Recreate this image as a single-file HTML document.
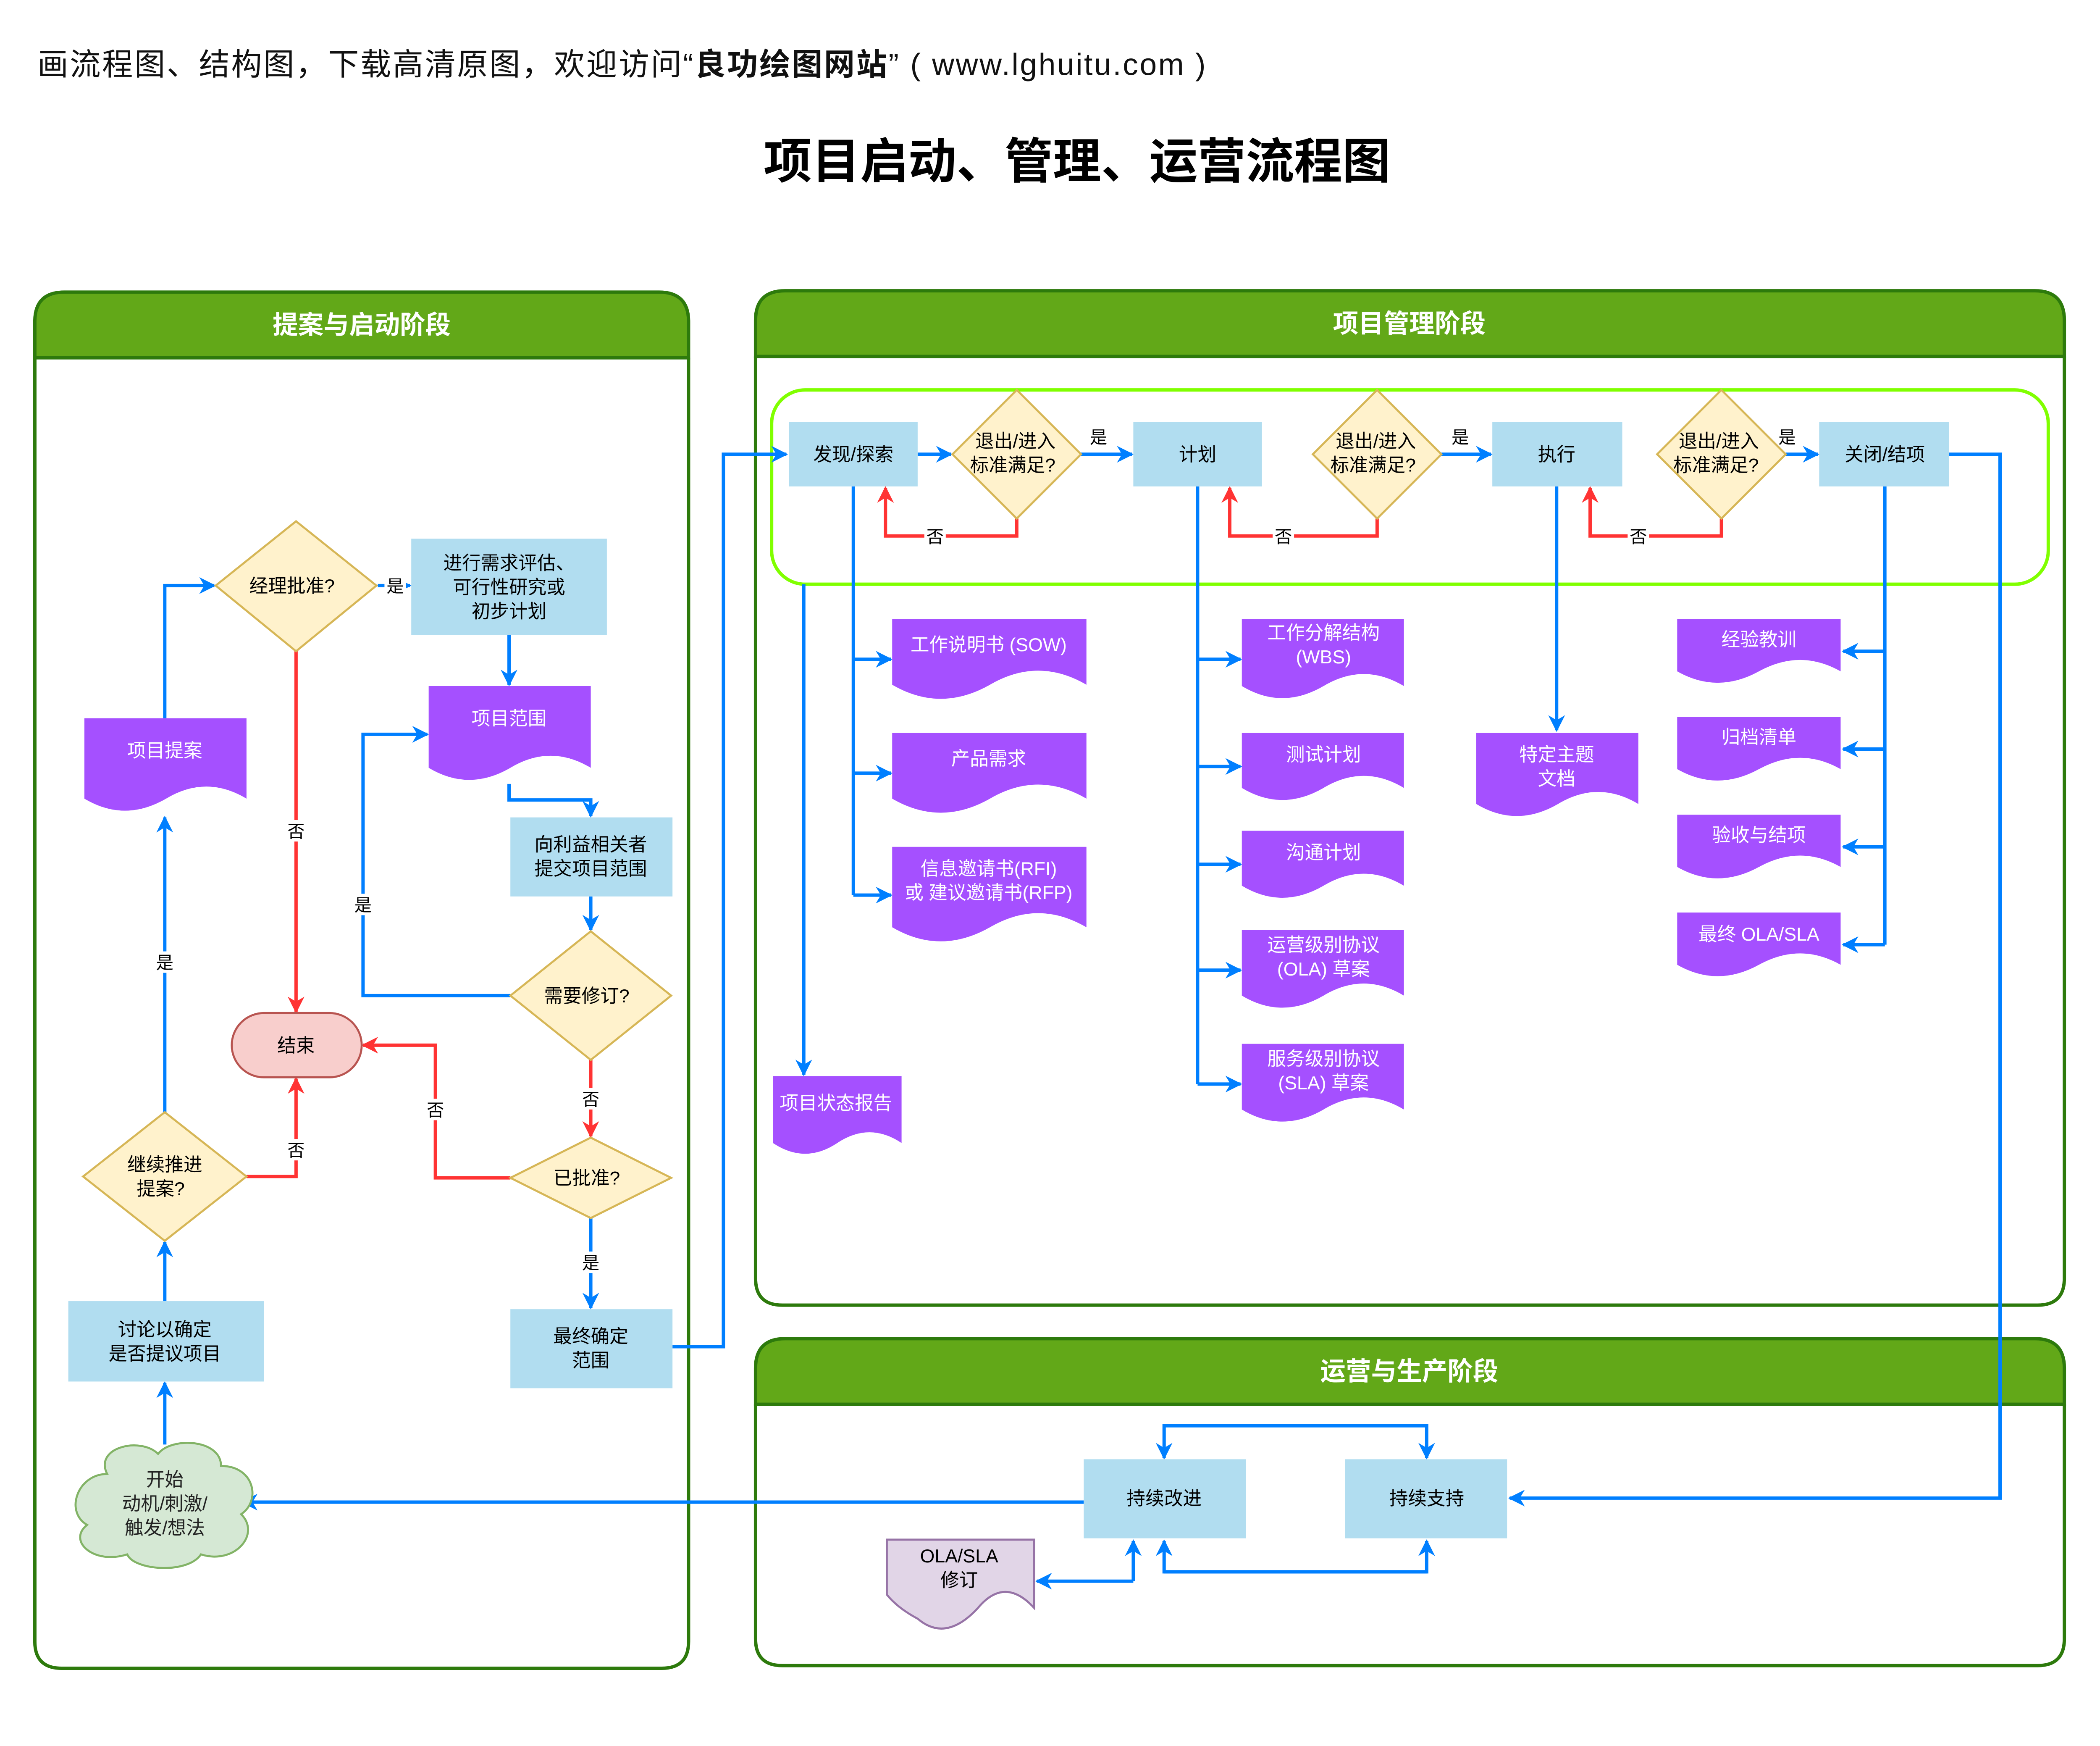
<!DOCTYPE html>
<html><head><meta charset="utf-8"><style>
html,body{margin:0;padding:0;background:#fff;}
svg{display:block;}
text{font-family:"Liberation Sans","Noto Sans CJK SC",sans-serif;}
</style></head><body>
<svg width="5132" height="4156" viewBox="0 0 1609 1303" preserveAspectRatio="none" xmlns="http://www.w3.org/2000/svg">
<defs>
<marker id="b" viewBox="0 0 10 10" refX="9" refY="5" markerWidth="5" markerHeight="5" orient="auto" markerUnits="strokeWidth"><path d="M0,0 L10,5 L0,10 L3,5 z" fill="#007fff"/></marker>
<marker id="r" viewBox="0 0 10 10" refX="9" refY="5" markerWidth="5" markerHeight="5" orient="auto" markerUnits="strokeWidth"><path d="M0,0 L10,5 L0,10 L3,5 z" fill="#ff3333"/></marker>
</defs>
<rect width="1609" height="1303" fill="#fff"/>
<text x="28" y="56" font-size="23" fill="#111" textLength="872" lengthAdjust="spacing">画流程图、结构图，下载高清原图，欢迎访问“<tspan font-weight="bold">良功绘图网站</tspan>” ( www.lghuitu.com )</text>
<text x="804" y="133" font-size="36" font-weight="bold" text-anchor="middle" fill="#000">项目启动、管理、运营流程图</text>

<g stroke="#2d7a0c" stroke-width="2.5">
<path d="M26,267 V240 Q26,218 48,218 H492 Q514,218 514,240 V267 Z" fill="#62a818"/>
<path d="M26,267 V1225 Q26,1245 46,1245 H494 Q514,1245 514,1225 V267" fill="none"/>
<path d="M564,266 V239 Q564,217 586,217 H1519 Q1541,217 1541,239 V266 Z" fill="#62a818"/>
<path d="M564,266 V954 Q564,974 584,974 H1521 Q1541,974 1541,954 V266" fill="none"/>
<path d="M564,1048 V1021 Q564,999 586,999 H1519 Q1541,999 1541,1021 V1048 Z" fill="#62a818"/>
<path d="M564,1048 V1223 Q564,1243 584,1243 H1521 Q1541,1243 1541,1223 V1048" fill="none"/>
</g>
<g font-size="19" font-weight="bold" fill="#fff" text-anchor="middle">
<text x="270" y="249">提案与启动阶段</text>
<text x="1052" y="248">项目管理阶段</text>
<text x="1052" y="1030">运营与生产阶段</text>
</g>
<rect x="576" y="291" width="953" height="145" rx="25" fill="none" stroke="#80ff00" stroke-width="2.5"/>

<g fill="none" stroke="#007fff" stroke-width="2.5" marker-end="url(#b)">
<path d="M123,536 V437 H160"/>
<path d="M282,437 H306"/>
<path d="M380,474 V511"/>
<path d="M380,585 V597 H441 V609"/>
<path d="M441,669 V694"/>
<path d="M381,743 H271 V548 H319"/>
<path d="M441,909 V976"/>
<path d="M123,830 V610"/>
<path d="M123,971 V927"/>
<path d="M123,1078 V1032"/>
<path d="M502,1005 H540 V339 H587"/>
<path d="M685,339 H710"/>
<path d="M807,339 H845"/>
<path d="M1076,339 H1113"/>
<path d="M1333,339 H1357"/>
<path d="M637,492 H665"/><path d="M637,577 H665"/><path d="M637,668 H665"/>
<path d="M600,436 V802"/>
<path d="M894,492 H926"/><path d="M894,572 H926"/><path d="M894,645 H926"/><path d="M894,724 H926"/><path d="M894,809 H926"/>
<path d="M1162,363 V545"/>
<path d="M1407,486 H1376"/><path d="M1407,559 H1376"/><path d="M1407,632 H1376"/><path d="M1407,705 H1376"/>
<path d="M1455,339 H1493 V1118 H1127"/>
<path d="M809,1121 H181"/>
<path d="M869,1064 H1065 V1088"/>
<path d="M1065,1064 H869 V1088"/>
<path d="M869,1173 H1065 V1150"/>
<path d="M1065,1173 H869 V1150"/>
<path d="M846,1180 V1150"/>
<path d="M846,1180 H774"/>
</g>
<g fill="none" stroke="#007fff" stroke-width="2.5">
<path d="M637,363 V668"/><path d="M894,363 V809"/><path d="M1407,363 V705"/>
</g>
<g fill="none" stroke="#ff3333" stroke-width="2.5" marker-end="url(#r)">
<path d="M221,486 V755"/>
<path d="M441,791 V848"/>
<path d="M381,879 H325 V780 H271"/>
<path d="M184,878 H221 V805"/>
<path d="M759,387 V400 H661 V364"/>
<path d="M1028,387 V400 H918 V364"/>
<path d="M1285,387 V400 H1187 V364"/>
</g>
<g font-size="13" fill="#000" text-anchor="middle">
<rect x="287" y="429" width="16" height="16" fill="#fff"/><text x="295" y="442">是</text>
<rect x="213" y="612" width="16" height="16" fill="#fff"/><text x="221" y="625">否</text>
<rect x="263" y="667" width="16" height="16" fill="#fff"/><text x="271" y="680">是</text>
<rect x="433" y="812" width="16" height="16" fill="#fff"/><text x="441" y="825">否</text>
<rect x="317" y="820" width="16" height="16" fill="#fff"/><text x="325" y="833">否</text>
<rect x="433" y="934" width="16" height="16" fill="#fff"/><text x="441" y="947">是</text>
<rect x="213" y="850" width="16" height="16" fill="#fff"/><text x="221" y="863">否</text>
<rect x="115" y="710" width="16" height="16" fill="#fff"/><text x="123" y="723">是</text>
<text x="820" y="331">是</text><text x="1090" y="331">是</text><text x="1334" y="331">是</text>
<rect x="690" y="392" width="16" height="16" fill="#fff"/><text x="698" y="405">否</text>
<rect x="950" y="392" width="16" height="16" fill="#fff"/><text x="958" y="405">否</text>
<rect x="1215" y="392" width="16" height="16" fill="#fff"/><text x="1223" y="405">否</text>
</g>

<g fill="#b1ddf0">
<rect x="307" y="402" width="146" height="72"/>
<rect x="381" y="610" width="121" height="59"/>
<rect x="51" y="971" width="146" height="60"/>
<rect x="381" y="977" width="121" height="59"/>
<rect x="589" y="315" width="96" height="48"/>
<rect x="846" y="315" width="96" height="48"/>
<rect x="1114" y="315" width="97" height="48"/>
<rect x="1358" y="315" width="97" height="48"/>
<rect x="809" y="1089" width="121" height="59"/>
<rect x="1004" y="1089" width="121" height="59"/>
</g>
<g fill="#fff2cc" stroke="#d6b656" stroke-width="1.5">
<path d="M221,389 L281,437 L221,486 L161,437 Z"/>
<path d="M441,695 L501,743 L441,791 L381,743 Z"/>
<path d="M123,830 L184,878 L123,926 L62,878 Z"/>
<path d="M441,849 L501,879 L441,909 L381,879 Z"/>
<path d="M759,291 L807,339 L759,387 L711,339 Z"/>
<path d="M1028,291 L1076,339 L1028,387 L980,339 Z"/>
<path d="M1285,291 L1333,339 L1285,387 L1237,339 Z"/>
</g>
<rect x="173" y="756" width="97" height="48" rx="24" fill="#f8cecc" stroke="#b85450" stroke-width="1.5"/>
<path d="M80,1100 C70,1080 105,1072 118,1085 C128,1072 165,1074 165,1094 C190,1094 195,1120 180,1130 C195,1145 175,1168 150,1160 C140,1175 100,1172 95,1160 C70,1168 50,1150 65,1138 C48,1128 58,1100 80,1100 Z" fill="#d5e8d4" stroke="#82b366" stroke-width="1.5"/>

<g fill="#a550ff">
<path d="M63,536 H184 V596 Q154,578 124,596 Q93,614 63,596 Z"/>
<path d="M320,512 H441 V573 Q411,555 381,573 Q350,591 320,573 Z"/>
<path d="M666,462 H811 V511 Q775,490 739,511 Q702,532 666,511 Z"/>
<path d="M666,547 H811 V596 Q775,575 739,596 Q702,617 666,596 Z"/>
<path d="M666,632 H811 V692 Q775,671 739,692 Q702,713 666,692 Z"/>
<path d="M577,803 H673 V853 Q649,837 625,853 Q601,869 577,853 Z"/>
<path d="M927,462 H1048 V512 Q1018,494 988,512 Q957,530 927,512 Z"/>
<path d="M927,547 H1048 V588 Q1018,570 988,588 Q957,606 927,588 Z"/>
<path d="M927,620 H1048 V661 Q1018,643 988,661 Q957,679 927,661 Z"/>
<path d="M927,694 H1048 V743 Q1018,725 988,743 Q957,761 927,743 Z"/>
<path d="M927,779 H1048 V828 Q1018,810 988,828 Q957,846 927,828 Z"/>
<path d="M1102,547 H1223 V600 Q1193,582 1163,600 Q1132,618 1102,600 Z"/>
<path d="M1252,462 H1374 V501 Q1344,484 1313,501 Q1282,518 1252,501 Z"/>
<path d="M1252,535 H1374 V574 Q1344,557 1313,574 Q1282,591 1252,574 Z"/>
<path d="M1252,608 H1374 V647 Q1344,630 1313,647 Q1282,664 1252,647 Z"/>
<path d="M1252,681 H1374 V720 Q1344,703 1313,720 Q1282,737 1252,720 Z"/>
</g>
<path d="M662,1149 H772 V1200 Q750,1176 730,1200 Q706,1226 685,1208 Q670,1200 662,1190 Z" fill="#e1d5e7" stroke="#9673a6" stroke-width="1.5"/>

<g font-size="14" fill="#000" text-anchor="middle">
<text x="218" y="442">经理批准?</text>
<text x="380" y="425">进行需求评估、</text><text x="380" y="443">可行性研究或</text><text x="380" y="461">初步计划</text>
<text x="441" y="635">向利益相关者</text><text x="441" y="653">提交项目范围</text>
<text x="438" y="748">需要修订?</text>
<text x="123" y="874">继续推进</text><text x="120" y="892">提案?</text>
<text x="438" y="884">已批准?</text>
<text x="221" y="785">结束</text>
<text x="123" y="997">讨论以确定</text><text x="123" y="1015">是否提议项目</text>
<text x="441" y="1002">最终确定</text><text x="441" y="1020">范围</text>
<text x="123" y="1109" fill="#222">开始</text><text x="123" y="1127" fill="#222">动机/刺激/</text><text x="123" y="1145" fill="#222">触发/想法</text>
<text x="637" y="344">发现/探索</text>
<text x="758" y="334">退出/进入</text><text x="756" y="352">标准满足?</text>
<text x="894" y="344">计划</text>
<text x="1027" y="334">退出/进入</text><text x="1025" y="352">标准满足?</text>
<text x="1162" y="344">执行</text>
<text x="1283" y="334">退出/进入</text><text x="1281" y="352">标准满足?</text>
<text x="1407" y="344">关闭/结项</text>
<text x="869" y="1123">持续改进</text>
<text x="1065" y="1123">持续支持</text>
<text x="716" y="1166">OLA/SLA</text><text x="716" y="1184">修订</text>
</g>
<g font-size="14" fill="#fff" text-anchor="middle">
<text x="123" y="565">项目提案</text>
<text x="380" y="541">项目范围</text>
<text x="738" y="486">工作说明书 (SOW)</text>
<text x="738" y="571">产品需求</text>
<text x="738" y="653">信息邀请书(RFI)</text><text x="738" y="671">或 建议邀请书(RFP)</text>
<text x="624" y="828">项目状态报告</text>
<text x="988" y="477">工作分解结构</text><text x="988" y="495">(WBS)</text>
<text x="988" y="568">测试计划</text>
<text x="988" y="641">沟通计划</text>
<text x="988" y="710">运营级别协议</text><text x="988" y="728">(OLA) 草案</text>
<text x="988" y="795">服务级别协议</text><text x="988" y="813">(SLA) 草案</text>
<text x="1162" y="568">特定主题</text><text x="1162" y="586">文档</text>
<text x="1313" y="482">经验教训</text>
<text x="1313" y="555">归档清单</text>
<text x="1313" y="628">验收与结项</text>
<text x="1313" y="702">最终 OLA/SLA</text>
</g>
</svg>
</body></html>
